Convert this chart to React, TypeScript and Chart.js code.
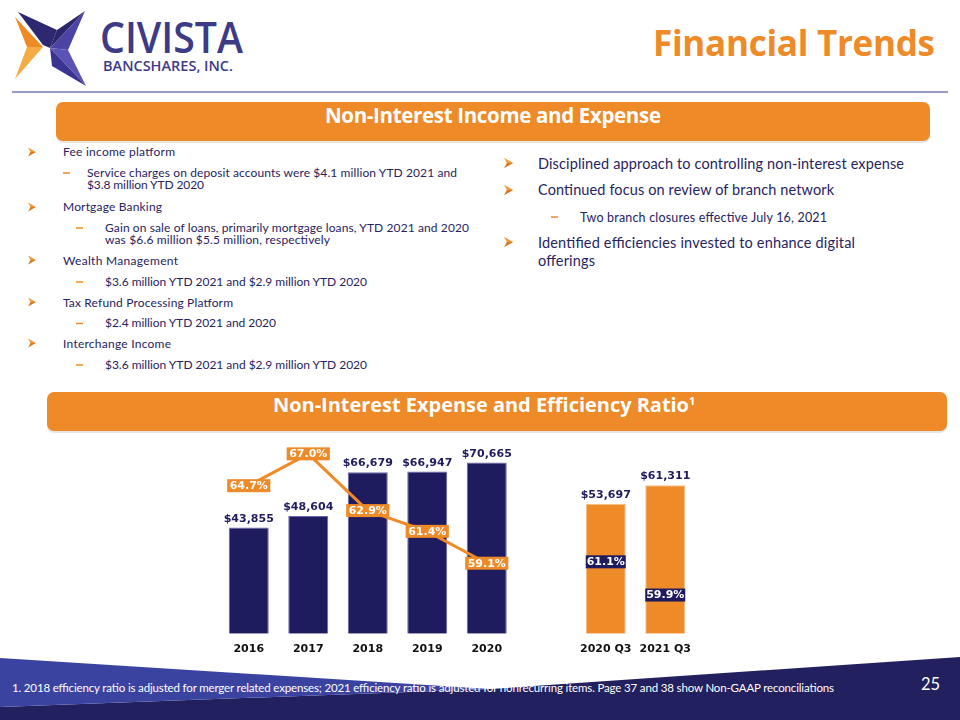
import React, { useEffect, useRef } from "react";
import { Chart, registerables } from "chart.js";
Chart.register(...registerables);

const NAVY = "#1E1B5E";
const ORANGE = "#EE8A27";
const TEXT = "#27235F";
const LOGO = "#3D3A86";

const categories = ["2016", "2017", "2018", "2019", "2020", "", "2020 Q3", "2021 Q3"];
const periodType = ["annual", "annual", "annual", "annual", "annual", "", "quarter", "quarter"];
const expenseValues = [43855, 48604, 66679, 66947, 70665, null, 53697, 61311];
const annualEfficiency = [64.7, 67.0, 62.9, 61.4, 59.1, null, null, null];
const quarterEfficiency = [null, null, null, null, null, null, 61.1, 59.9];

const labelPlugin = {
  id: "valueLabels",
  afterDatasetsDraw(chart: any) {
    const ctx = chart.ctx;
    ctx.save();
    ctx.font = "bold 11px 'DejaVu Sans'";
    ctx.textAlign = "center";
    const barMeta = chart.getDatasetMeta(0);
    barMeta.data.forEach((el: any, i: number) => {
      const v = expenseValues[i];
      if (v == null) return;
      ctx.fillStyle = NAVY;
      ctx.textBaseline = "alphabetic";
      ctx.fillText("$" + v.toLocaleString("en-US"), el.x, el.y - 6);
    });
    const box = (x: number, y: number, text: string, bg: string, w?: number) => {
      const tw = ctx.measureText(text).width;
      const bw = w ?? tw + 5;
      const bh = 13;
      ctx.fillStyle = bg;
      ctx.fillRect(x - bw / 2, y - bh / 2, bw, bh);
      ctx.fillStyle = "#ffffff";
      ctx.textBaseline = "middle";
      ctx.fillText(text, x, y + 0.5);
    };
    const lineMeta = chart.getDatasetMeta(1);
    lineMeta.data.forEach((el: any, i: number) => {
      const v = annualEfficiency[i];
      if (v == null) return;
      box(el.x, el.y, v.toFixed(1) + "%", ORANGE);
    });
    const qMeta = chart.getDatasetMeta(2);
    qMeta.data.forEach((el: any, i: number) => {
      const v = quarterEfficiency[i];
      if (v == null) return;
      box(el.x, el.y, v.toFixed(1) + "%", NAVY, 40);
    });
    ctx.restore();
  },
};

function ExpenseChart() {
  const ref = useRef<HTMLCanvasElement>(null);
  useEffect(() => {
    if (!ref.current) return;
    const chart = new Chart(ref.current, {
      type: "bar",
      data: {
        labels: categories,
        datasets: [
          {
            type: "bar",
            data: expenseValues as any,
            backgroundColor: periodType.map((p) => (p === "quarter" ? ORANGE : NAVY)),
            borderColor: periodType.map((p) => (p === "quarter" ? "#F6BE86" : "#6A66A8")),
            borderWidth: 1,
            categoryPercentage: 0.672,
            barPercentage: 1,
            yAxisID: "y",
            order: 2,
          },
          {
            type: "line",
            data: annualEfficiency as any,
            borderColor: ORANGE,
            borderWidth: 3,
            pointRadius: 0,
            spanGaps: false,
            yAxisID: "y2",
            order: 0,
          },
          {
            type: "line",
            data: quarterEfficiency as any,
            showLine: false,
            pointRadius: 0,
            yAxisID: "y3",
            order: 1,
          },
        ],
      } as any,
      options: {
        responsive: false,
        animation: false,
        layout: { padding: { left: 19, right: 25, top: 20, bottom: 16 } },
        plugins: { legend: { display: false }, tooltip: { enabled: false } },
        scales: {
          x: {
            grid: { display: false },
            border: { display: false },
            ticks: {
              font: { family: "DejaVu Sans", size: 11, weight: "bold" },
              color: "#111111",
              padding: 1,
              maxRotation: 0,
              autoSkip: false,
            },
          },
          y: { display: false, min: 0, max: 80000 },
          y2: { display: false, min: 54, max: 68 },
          y3: { display: false, min: 58.5, max: 65.5 },
        },
      } as any,
      plugins: [labelPlugin],
    });
    return () => chart.destroy();
  }, []);
  return (
    <canvas
      ref={ref}
      width={520}
      height={253}
      style={{ position: "absolute", left: 200, top: 420, width: 520, height: 253 }}
    />
  );
}

const Arrow = ({ x, c, s = 1 }: { x: number; c: number; s?: number }) => (
  <g>
    <polygon points={`${x},${c - 4.5 * s} ${x + 8 * s},${c} ${x + 2.5 * s},${c}`} fill="#F29A3A" />
    <polygon points={`${x + 2.5 * s},${c} ${x + 8 * s},${c} ${x},${c + 4.5 * s}`} fill="#D9761B" />
  </g>
);

const Dash = ({ x, c }: { x: number; c: number }) => (
  <rect x={x} y={c - 0.75} width={7} height={1.5} fill={ORANGE} />
);

const T = (p: any) => (
  <text
    x={p.x}
    y={p.y}
    fontSize={p.size}
    fontWeight={p.weight ?? 400}
    fill={p.fill ?? TEXT}
    fontFamily={p.family ?? "Lato"}
    textLength={p.w}
    lengthAdjust={p.adj ?? "spacing"}
  >
    {p.children}
  </text>
);

function Slide() {
  return (
    <svg width={960} height={720} style={{ position: "absolute", left: 0, top: 0 }}>
      <rect x={0} y={0} width={960} height={720} fill="#ffffff" />
      {/* logo */}
      <polygon points="15,17 43,47 27,47" fill="#F08A24" />
      <polygon points="27,47 43,47 15,79" fill="#F6AC45" />
      <polygon points="18,12 57,30 50,48 43,45" fill="#2D2870" />
      <polygon points="85,11 57,30 50,48" fill="#2B2569" />
      <polygon points="85,11 50,48 68,50" fill="#4B44A4" />
      <polygon points="86,86 68,50 50,48" fill="#5A53B5" />
      <polygon points="86,86 50,48 52,66" fill="#3A3390" />
      <T x={100} y={53} size={43.5} weight={600} family="Open Sans" fill={LOGO} w={143} adj="spacingAndGlyphs">CIVISTA</T>
      <T x={103} y={71} size={14} weight={600} family="Open Sans" fill={LOGO} w={130} adj="spacingAndGlyphs">BANCSHARES, INC.</T>
      {/* title */}
      <T x={653} y={56} size={35} weight={700} family="Open Sans" fill={ORANGE} w={282}>Financial Trends</T>
      <rect x={12} y={91} width={936} height={2} fill="#9A9AC8" />
      {/* banner 1 */}
      <rect x={56} y={104} width={874} height={39} rx={7} fill="rgba(0,0,0,0.10)" />
      <rect x={56} y={102} width={874} height={39} rx={7} fill={ORANGE} />
      <T x={325} y={123} size={20.5} weight={700} family="Open Sans" fill="#ffffff" w={336}>Non-Interest Income and Expense</T>
      {/* left bullets */}
      <Arrow x={28} c={152} />
      <T x={63} y={156} size={12} w={112}>Fee income platform</T>
      <Dash x={63} c={173} />
      <T x={87} y={176.5} size={12} w={370}>Service charges on deposit accounts were $4.1 million YTD 2021 and</T>
      <T x={87} y={189} size={12} w={117}>$3.8 million YTD 2020</T>
      <Arrow x={28} c={207} />
      <T x={63} y={211} size={12} w={99}>Mortgage Banking</T>
      <Dash x={76} c={228} />
      <T x={105} y={231.5} size={12} w={364}>Gain on sale of loans, primarily mortgage loans, YTD 2021 and 2020</T>
      <T x={105} y={244} size={12} w={225}>was $6.6 million $5.5 million, respectively</T>
      <Arrow x={28} c={260} />
      <T x={63} y={264.5} size={12} w={115}>Wealth Management</T>
      <Dash x={76} c={282} />
      <T x={105} y={285.5} size={12} w={262}>$3.6 million YTD 2021 and $2.9 million YTD 2020</T>
      <Arrow x={28} c={302} />
      <T x={63} y={306.5} size={12} w={170}>Tax Refund Processing Platform</T>
      <Dash x={76} c={323.5} />
      <T x={105} y={327} size={12} w={171}>$2.4 million YTD 2021 and 2020</T>
      <Arrow x={28} c={343} />
      <T x={63} y={347.5} size={12} w={108}>Interchange Income</T>
      <Dash x={76} c={365} />
      <T x={105} y={368.5} size={12} w={262}>$3.6 million YTD 2021 and $2.9 million YTD 2020</T>
      {/* right bullets */}
      <Arrow x={504} c={163} s={1.15} />
      <T x={538} y={168.5} size={14.5} w={366}>Disciplined approach to controlling non-interest expense</T>
      <Arrow x={504} c={190} s={1.15} />
      <T x={538} y={195} size={14.5} w={296}>Continued focus on review of branch network</T>
      <Dash x={551} c={217} />
      <T x={580} y={221.5} size={12.5} w={247}>Two branch closures effective July 16, 2021</T>
      <Arrow x={504} c={242} s={1.15} />
      <T x={538} y={247.5} size={14.5} w={317}>Identified efficiencies invested to enhance digital</T>
      <T x={538} y={266} size={14.5} w={57}>offerings</T>
      {/* banner 2 */}
      <rect x={47} y={394} width={900} height={39} rx={7} fill="rgba(0,0,0,0.10)" />
      <rect x={47} y={392} width={900} height={39} rx={7} fill={ORANGE} />
      <text x={273} y={412} fontSize={20} fontWeight={700} fontFamily="Open Sans" fill="#ffffff">
        <tspan textLength={416}>Non-Interest Expense and Efficiency Ratio</tspan>
        <tspan fontSize={11} dy={-7}>1</tspan>
      </text>
      {/* footer */}
      <polygon points="490,689 960,657 960,720 0,720 0,707" fill="#22205E" />
      <polygon points="0,658 490,689 0,707" fill="#3B43A1" />
      <T x={12} y={692} size={11.5} fill="#ffffff" w={822}>
        1. 2018 efficiency ratio is adjusted for merger related expenses; 2021 efficiency ratio is adjusted for nonrecurring items. Page 37 and 38 show Non-GAAP reconciliations
      </T>
      <T x={921} y={690} size={16.5} fill="#ffffff">25</T>
    </svg>
  );
}

export default function App() {
  return (
    <div style={{ position: "absolute", left: 0, top: 0, width: 960, height: 720, overflow: "hidden", background: "#fff" }}>
      <Slide />
      <ExpenseChart />
    </div>
  );
}
